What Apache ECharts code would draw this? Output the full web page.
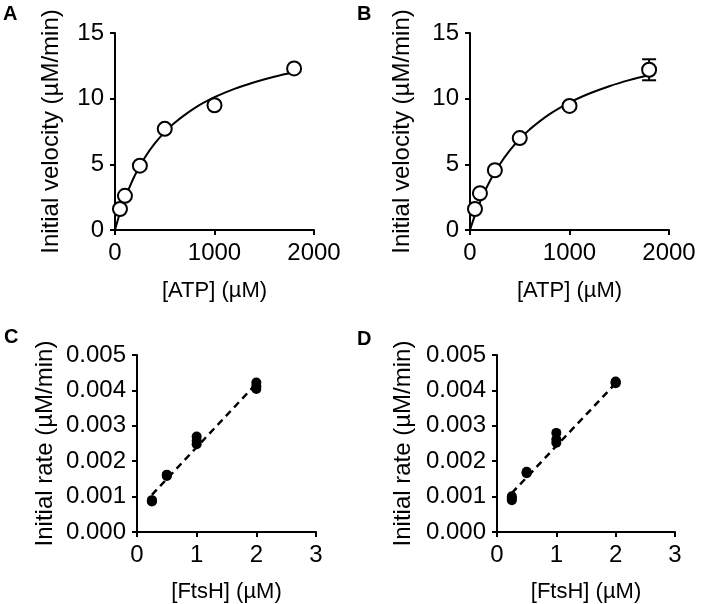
<!DOCTYPE html>
<html>
<head>
<meta charset="utf-8">
<script src="https://cdn.jsdelivr.net/npm/echarts@6/dist/echarts.min.js"></script>
<style>
html,body{margin:0;padding:0;background:#fff;}
#c{width:702px;height:604px;}
</style>
</head>
<body>
<div id="c"></div>
<script>
// ---- Data ----
var atpConc = [50, 100, 250, 500, 1000, 1800];
var velA = [1.6, 2.6, 4.9, 7.7, 9.5, 12.3];
var velB = [1.6, 2.8, 4.55, 7.0, 9.45, 12.2];
var errB = [0.1, 0.15, 0.2, 0.15, 0.2, 0.8];

var fitX = [0, 50, 100, 200, 300, 400, 500, 600, 800, 1000, 1200, 1400, 1600, 1800];
var fitA = [0, 1.30, 2.40, 4.17, 5.52, 6.59, 7.45, 8.17, 9.28, 10.11, 10.75, 11.25, 11.67, 12.01];
var fitB = [0, 1.13, 2.11, 3.73, 5.01, 6.06, 6.93, 7.66, 8.82, 9.70, 10.39, 10.95, 11.41, 11.80];

var ftshConc = [0.25, 0.25, 0.25, 0.5, 0.5, 0.5, 1, 1, 1, 2, 2, 2];
var rateC = [0.00088, 0.00090, 0.00086, 0.00158, 0.00162, 0.00160, 0.00270, 0.00258, 0.00248, 0.00422, 0.00412, 0.00404];
var rateD = [0.00101, 0.00095, 0.00090, 0.00168, 0.00166, 0.00170, 0.00280, 0.00262, 0.00252, 0.00425, 0.00420, 0.00422];

var lineX = [0.25, 2];
var lineC = [0.00105, 0.00419];
var lineD = [0.00110, 0.00420];

var xTicksATP = [0, 1000, 2000];
var yTicksVel = [0, 5, 10, 15];
var xTicksFtsH = [0, 1, 2, 3];
var yTicksRate = [0, 0.001, 0.002, 0.003, 0.004, 0.005];

var panelLabels = ['A', 'B', 'C', 'D'];
var velTitle = 'Initial velocity (\u00b5M/min)';
var rateTitle = 'Initial rate (\u00b5M/min)';
var atpTitle = '[ATP] (\u00b5M)';
var ftshTitle = '[FtsH] (\u00b5M)';

// ---- Chart ----
var FONT = '"Liberation Sans", Arial, Helvetica, sans-serif';
function zip(xs, ys) { return xs.map(function (x, i) { return [x, ys[i]]; }); }

function xAxisCfg(idx, ticks, name, nameGap) {
  var iv = ticks[1] - ticks[0];
  return {
    gridIndex: idx, type: 'value', min: ticks[0], max: ticks[ticks.length - 1], interval: iv,
    name: name, nameLocation: 'middle', nameGap: nameGap,
    nameTextStyle: { fontFamily: FONT, fontSize: 22, color: '#000' },
    axisLine: { show: true, onZero: false, lineStyle: { color: '#000', width: 2 } },
    axisTick: { show: true, inside: false, length: 5, lineStyle: { color: '#000', width: 2 } },
    axisLabel: { fontFamily: FONT, fontSize: 24, color: '#000', margin: 11,
      formatter: function (v) { return String(Math.round(v)); } },
    splitLine: { show: false }
  };
}
function yAxisCfg(idx, ticks, name, nameGap, dec) {
  var iv = ticks[1] - ticks[0];
  return {
    gridIndex: idx, type: 'value', min: ticks[0], max: ticks[ticks.length - 1], interval: iv,
    name: name, nameLocation: 'middle', nameGap: nameGap,
    nameTextStyle: { fontFamily: FONT, fontSize: 24, color: '#000' },
    axisLine: { show: true, onZero: false, lineStyle: { color: '#000', width: 2 } },
    axisTick: { show: true, inside: false, length: 5, lineStyle: { color: '#000', width: 2 } },
    axisLabel: { fontFamily: FONT, fontSize: 24, color: '#000', margin: 11,
      formatter: function (v) { return dec ? v.toFixed(dec) : String(Math.round(v)); } },
    splitLine: { show: false }
  };
}

var labelPos = [[3, 4], [357, 4], [4, 327], [357, 329]];

var option = {
  backgroundColor: '#fff',
  animation: false,
  title: panelLabels.map(function (t, i) {
    return { text: t, left: labelPos[i][0], top: labelPos[i][1], padding: 0,
      textStyle: { fontFamily: FONT, fontSize: 20, fontWeight: 'bold', color: '#000' } };
  }),
  grid: [
    { left: 115, top: 33, width: 199, height: 197 },
    { left: 470, top: 33, width: 199, height: 197 },
    { left: 137, top: 355, width: 179, height: 179 },
    { left: 497, top: 355, width: 178, height: 179 }
  ],
  xAxis: [
    xAxisCfg(0, xTicksATP, atpTitle, 50),
    xAxisCfg(1, xTicksATP, atpTitle, 50),
    xAxisCfg(2, xTicksFtsH, ftshTitle, 49),
    xAxisCfg(3, xTicksFtsH, ftshTitle, 49)
  ],
  yAxis: [
    yAxisCfg(0, yTicksVel, velTitle, 52, 0),
    yAxisCfg(1, yTicksVel, velTitle, 56, 0),
    yAxisCfg(2, yTicksRate, rateTitle, 80, 3),
    yAxisCfg(3, yTicksRate, rateTitle, 82, 3)
  ],
  series: [
    // Panel A
    { type: 'line', xAxisIndex: 0, yAxisIndex: 0, data: zip(fitX, fitA), smooth: 0.4,
      showSymbol: false, symbol: 'none', lineStyle: { color: '#000', width: 2 }, z: 2 },
    { type: 'scatter', xAxisIndex: 0, yAxisIndex: 0, data: zip(atpConc, velA), symbol: 'circle',
      symbolSize: 14, itemStyle: { color: '#fff', borderColor: '#000', borderWidth: 2, opacity: 1 }, z: 3 },
    // Panel B
    { type: 'line', xAxisIndex: 1, yAxisIndex: 1, data: zip(fitX, fitB), smooth: 0.4,
      showSymbol: false, symbol: 'none', lineStyle: { color: '#000', width: 2 }, z: 2 },
    { type: 'custom', xAxisIndex: 1, yAxisIndex: 1, z: 2,
      data: atpConc.map(function (x, i) { return [x, velB[i] - errB[i], velB[i] + errB[i]]; }),
      renderItem: function (params, api) {
        var lo = api.coord([api.value(0), api.value(1)]);
        var hi = api.coord([api.value(0), api.value(2)]);
        var hw = 7;
        var st = { stroke: '#000', lineWidth: 2, fill: null };
        return { type: 'group', children: [
          { type: 'line', shape: { x1: lo[0], y1: lo[1], x2: hi[0], y2: hi[1] }, style: st },
          { type: 'line', shape: { x1: lo[0] - hw, y1: lo[1], x2: lo[0] + hw, y2: lo[1] }, style: st },
          { type: 'line', shape: { x1: hi[0] - hw, y1: hi[1], x2: hi[0] + hw, y2: hi[1] }, style: st }
        ] };
      } },
    { type: 'scatter', xAxisIndex: 1, yAxisIndex: 1, data: zip(atpConc, velB), symbol: 'circle',
      symbolSize: 14, itemStyle: { color: '#fff', borderColor: '#000', borderWidth: 2, opacity: 1 }, z: 3 },
    // Panel C
    { type: 'line', xAxisIndex: 2, yAxisIndex: 2, data: zip(lineX, lineC), showSymbol: false, symbol: 'none',
      lineStyle: { color: '#000', width: 2.5, type: [7, 5] }, z: 2 },
    { type: 'scatter', xAxisIndex: 2, yAxisIndex: 2, data: zip(ftshConc, rateC), symbol: 'circle',
      symbolSize: 10, itemStyle: { color: '#000', opacity: 1 }, z: 3 },
    // Panel D
    { type: 'line', xAxisIndex: 3, yAxisIndex: 3, data: zip(lineX, lineD), showSymbol: false, symbol: 'none',
      lineStyle: { color: '#000', width: 2.5, type: [7, 5] }, z: 2 },
    { type: 'scatter', xAxisIndex: 3, yAxisIndex: 3, data: zip(ftshConc, rateD), symbol: 'circle',
      symbolSize: 10, itemStyle: { color: '#000', opacity: 1 }, z: 3 }
  ]
};

var chart = echarts.init(document.getElementById('c'), null, { renderer: 'canvas' });
chart.setOption(option);
</script>
</body>
</html>
